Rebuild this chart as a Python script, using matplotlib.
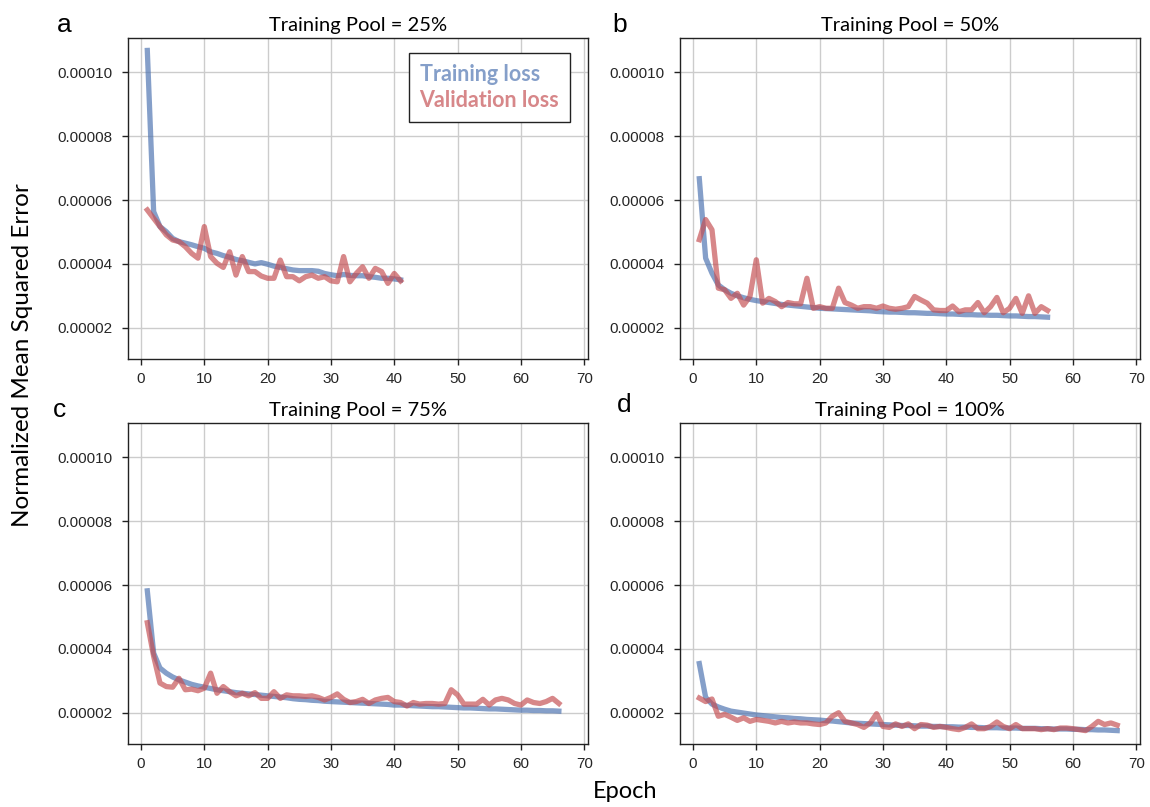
import numpy as np
import matplotlib
matplotlib.use("Agg")
import matplotlib.pyplot as plt
from matplotlib.ticker import FormatStrFormatter

# loss values in units of 1e-6, one value per epoch starting at epoch 1
train_a = [106.9, 56.4, 51.7, 50.1, 48.0, 47.0, 46.5, 46.0, 45.4, 44.9,
           43.8, 43.3, 42.6, 42.1, 41.4, 41.0, 40.5, 40.0, 40.4, 39.9,
           39.3, 38.9, 38.5, 38.1, 37.9, 37.9, 37.9, 37.7, 37.0, 36.6,
           36.3, 36.7, 36.4, 36.3, 36.3, 36.0, 35.8, 35.5, 35.5, 35.3, 35.0]
val_a = [56.9, 54.3, 51.7, 49.1, 47.5, 47.0, 45.4, 43.3, 41.8, 51.7,
         42.3, 40.2, 38.9, 43.8, 36.5, 42.3, 37.6, 37.6, 36.2, 35.5,
         35.5, 41.2, 36.0, 36.0, 34.7, 36.0, 36.5, 35.5, 36.0, 34.7,
         34.4, 42.3, 34.4, 37.0, 39.1, 35.5, 38.6, 37.6, 33.9, 37.0, 34.7]

train_b = [66.7, 41.8, 37.1, 33.4, 31.9, 30.8, 30.0, 29.4, 28.9, 28.5,
           28.2, 27.9, 27.6, 27.3, 27.1, 26.9, 26.7, 26.5, 26.3, 26.1,
           26.0, 25.9, 25.8, 25.7, 25.6, 25.5, 25.4, 25.3, 25.1, 25.0,
           24.9, 24.9, 24.8, 24.7, 24.7, 24.6, 24.5, 24.5, 24.4, 24.3,
           24.3, 24.2, 24.1, 24.1, 24.0, 24.0, 23.9, 23.9, 23.8, 23.7,
           23.7, 23.6, 23.5, 23.5, 23.4, 23.3]
val_b = [47.6, 53.9, 50.7, 32.4, 31.9, 29.2, 30.8, 27.1, 29.8, 41.3,
         27.7, 29.2, 28.2, 26.6, 27.9, 27.5, 27.5, 35.5, 26.1, 26.6,
         26.1, 26.1, 32.4, 27.9, 27.1, 26.1, 26.6, 26.6, 26.1, 26.8,
         26.1, 25.8, 26.1, 26.6, 29.8, 28.7, 27.7, 25.6, 25.4, 25.4,
         26.8, 25.0, 25.6, 25.6, 27.9, 24.7, 26.6, 29.5, 24.7, 26.1,
         29.2, 24.5, 30.0, 24.5, 26.6, 25.4]

train_c = [58.2, 38.7, 34.0, 32.4, 31.2, 30.3, 29.6, 28.9, 28.4, 28.0,
           27.6, 27.2, 26.9, 26.6, 26.3, 26.1, 25.9, 25.7, 25.5, 25.3,
           25.1, 24.9, 24.7, 24.4, 24.2, 24.1, 23.9, 23.8, 23.6, 23.5,
           23.4, 23.3, 23.2, 23.1, 23.0, 22.9, 22.8, 22.7, 22.6, 22.4,
           22.4, 22.3, 22.2, 22.1, 22.0, 21.9, 21.9, 21.8, 21.7, 21.6,
           21.5, 21.5, 21.4, 21.3, 21.2, 21.2, 21.1, 21.0, 20.9, 20.8,
           20.8, 20.7, 20.7, 20.6, 20.6, 20.5]
val_c = [48.2, 37.7, 29.3, 28.2, 28.0, 30.8, 27.2, 27.4, 26.9, 27.7,
         32.4, 26.1, 28.2, 26.6, 25.3, 26.1, 25.3, 26.3, 24.5, 24.5,
         26.6, 24.5, 25.6, 25.3, 25.3, 25.1, 25.3, 24.8, 24.0, 24.8,
         25.9, 24.2, 23.2, 23.5, 24.2, 22.9, 24.0, 24.5, 24.8, 23.5,
         23.2, 22.1, 23.2, 22.7, 22.9, 22.9, 22.7, 22.9, 27.2, 25.6,
         22.7, 22.7, 22.7, 24.2, 22.4, 24.0, 24.5, 24.0, 22.9, 22.4,
         24.0, 23.2, 22.9, 23.5, 24.5, 22.9]

train_d = [35.4, 24.8, 22.7, 21.8, 21.1, 20.5, 20.2, 19.9, 19.6, 19.3,
           19.1, 18.9, 18.7, 18.5, 18.4, 18.2, 18.1, 17.9, 17.8, 17.7,
           17.5, 17.4, 17.2, 17.0, 16.8, 16.7, 16.6, 16.5, 16.4, 16.3,
           16.2, 16.1, 16.0, 16.0, 15.9, 15.8, 15.8, 15.7, 15.7, 15.6,
           15.6, 15.5, 15.5, 15.4, 15.4, 15.3, 15.3, 15.3, 15.2, 15.2,
           15.2, 15.1, 15.1, 15.1, 15.0, 15.0, 14.9, 14.9, 14.9, 14.8,
           14.8, 14.7, 14.7, 14.6, 14.6, 14.5, 14.4]
val_d = [24.6, 23.5, 24.3, 18.9, 19.5, 18.6, 17.6, 18.4, 17.3, 17.9,
         17.6, 17.3, 16.8, 17.3, 16.8, 17.1, 16.8, 16.8, 16.5, 16.3,
         16.8, 18.9, 20.0, 17.3, 16.8, 16.3, 15.4, 16.8, 19.7, 15.7,
         15.4, 16.5, 15.7, 16.5, 15.0, 16.3, 16.1, 15.4, 15.7, 15.4,
         15.0, 14.7, 15.4, 16.5, 15.0, 15.0, 15.7, 17.1, 15.7, 15.0,
         16.3, 15.0, 15.0, 15.0, 14.7, 15.0, 14.7, 15.2, 15.2, 15.0,
         14.7, 14.4, 15.7, 17.3, 16.3, 16.8, 16.1]

panels = [
    ("a", "Training Pool = 25%", train_a, val_a),
    ("b", "Training Pool = 50%", train_b, val_b),
    ("c", "Training Pool = 75%", train_c, val_c),
    ("d", "Training Pool = 100%", train_d, val_d),
]

blue = "#4c72b0"
red = "#c44e52"
label_font = "Lato"

W, H = 1150, 807
fig = plt.figure(figsize=(W / 100, H / 100), dpi=100)

# axes boxes in pixels: left, top, right, bottom
boxes = [(128, 38, 588, 359), (680, 38, 1140, 359),
         (128, 423, 588, 744), (680, 423, 1140, 744)]
letter_pos = [(57, 32), (612, 32), (53, 417), (617, 412)]

for (letter, title, tr, va), box, lp in zip(panels, boxes, letter_pos):
    l, t, r, b = box
    ax = fig.add_axes([l / W, 1 - b / H, (r - l) / W, (b - t) / H])
    ep = np.arange(1, len(tr) + 1)
    ax.plot(ep, np.array(tr) * 1e-6, color=blue, lw=3.8, alpha=0.68,
            label="Training loss", zorder=3)
    ax.plot(ep, np.array(va) * 1e-6, color=red, lw=3.8, alpha=0.68,
            label="Validation loss", zorder=3)
    ax.set_xlim(-2.05, 70.6)
    ax.set_ylim(1.02e-5, 1.108e-4)
    ax.set_xticks(range(0, 71, 10))
    ax.set_yticks([2e-5, 4e-5, 6e-5, 8e-5, 1e-4])
    ax.yaxis.set_major_formatter(FormatStrFormatter("%.5f"))
    ax.grid(True, color="#cccccc", lw=1.0)
    ax.set_axisbelow(True)
    for s in ax.spines.values():
        s.set_color("#222222")
        s.set_linewidth(1.0)
    ax.tick_params(direction="out", length=4, width=1, color="#222222",
                   labelsize=11, labelcolor="#262626", pad=5)
    ax.tick_params(axis="y", pad=7)
    for lab in ax.get_xticklabels() + ax.get_yticklabels():
        lab.set_family("Liberation Sans")
    ax.set_title(title, fontsize=14.5, family=label_font, pad=5)
    fig.text(lp[0] / W, 1 - lp[1] / H, letter, fontsize=19,
             family="Liberation Sans", va="baseline", ha="left")
    if letter == "a":
        leg = ax.legend(loc="upper right", bbox_to_anchor=(0.961, 0.954),
                        borderaxespad=0, handlelength=0, handletextpad=0,
                        labelcolor="linecolor", fancybox=False,
                        framealpha=1, edgecolor="#222222",
                        prop={"family": label_font, "weight": "bold", "size": 15.5},
                        borderpad=0.5, labelspacing=0.25)
        for h in leg.legend_handles:
            h.set_visible(False)
        for txt, c in zip(leg.get_texts(), [blue, red]):
            txt.set_color(c)
            txt.set_alpha(0.68)

fig.text(23 / W, 1 - 355 / H, "Normalized Mean Squared Error", rotation=90,
         fontsize=17.5, family=label_font, ha="center", va="center")
fig.text(625 / W, 1 - 792 / H, "Epoch", fontsize=17, family=label_font,
         ha="center", va="center")

fig.savefig("out.png", dpi=100)
